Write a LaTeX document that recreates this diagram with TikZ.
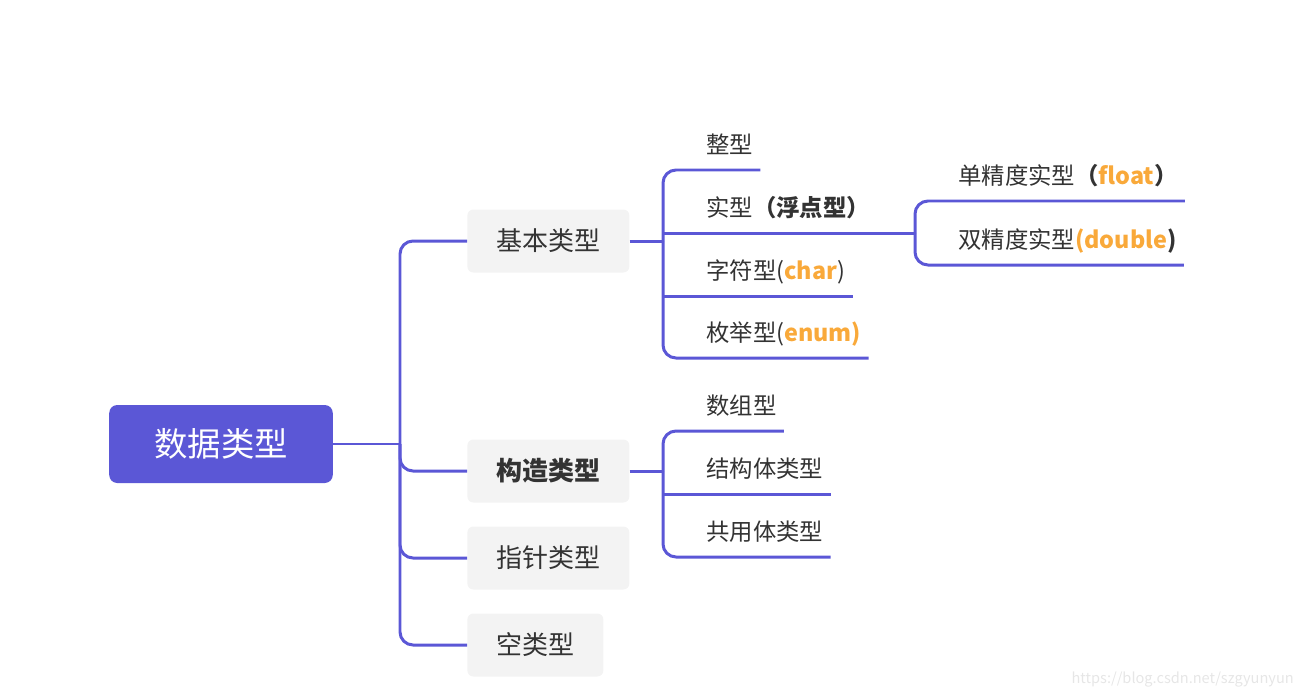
\documentclass[tikz,border=0pt]{standalone}
\usepackage{fontspec}
\setmainfont{Noto Sans CJK SC}
\usepackage{tikz}
\usetikzlibrary{positioning}
\definecolor{mindblue}{HTML}{5B57D6}
\definecolor{boxgray}{HTML}{F3F3F3}
\definecolor{txtgray}{HTML}{333333}
\definecolor{accent}{HTML}{F9A93A}
\definecolor{markgray}{HTML}{E6E6E6}
\newcommand{\acc}[1]{\textcolor{accent}{\textbf{#1}}}
\tikzset{
  rootbox/.style={rounded corners=0.16cm, fill=mindblue, text=white, minimum height=1.56cm,
                  inner xsep=0.9cm, font=\fontsize{19}{20}\selectfont},
  kindbox/.style={rounded corners=0.12cm, fill=boxgray, text=txtgray, minimum height=1.26cm,
                  inner xsep=0.58cm, anchor=west, font=\fontsize{14.8}{16}\selectfont},
  leaf/.style={anchor=south west, inner xsep=0.14cm, inner ysep=0.26cm, text height=0.8em,
               text depth=0.2em, text=txtgray, font=\fontsize{13.3}{14}\selectfont},
  link/.style={draw=mindblue, line width=1.7pt, rounded corners=0.26cm},
  watermark/.style={text=markgray, font=\fontsize{8.3}{9}\selectfont, anchor=east},
}

\begin{document}
\begin{tikzpicture}[x=0.02cm, y=-0.02cm]
  \useasboundingbox (0,0) rectangle (1308,697);

  \node[rootbox] (root) at (221,444) {数据类型};
  \node[kindbox] (kind1) at (467,241) {基本类型};
  \node[kindbox] (kind2) at (467,471) {\bfseries 构造类型};
  \node[kindbox] (kind3) at (467,558) {指针类型};
  \node[kindbox] (kind4) at (467,645) {空类型};

  \coordinate (trunk) at (400,444);
  \draw[link, line width=1.3pt] (root) -- (trunk);
  \foreach \k in {kind1,kind2,kind3,kind4}
    \draw[link] (trunk) |- (\k.west);

  % basic types
  \node[leaf] (int) at (699,170) {整型};
  \node[leaf] (real) at (699,233) {实型\textbf{（浮点型）}};
  \node[leaf] (char) at (699,296) {字符型(\acc{char})};
  \node[leaf] (enum) at (699,358) {枚举型(\acc{enum)}};
  \coordinate (fork1) at (663,241);
  \draw[link] (kind1) -- (fork1);
  \draw[link] (fork1) |- (int.south west) -- (int.south east);
  \draw[link] (fork1) |- (enum.south west) -- (enum.south east);
  \draw[link] (fork1 |- char.south) -- (char.south east);

  % float types
  \node[leaf] (single) at (951,201) {单精度实型\textbf{（}\acc{float}\textbf{）}};
  \node[leaf] (double) at (951,265) {双精度实型\acc{(double}\textbf{)}};
  \coordinate (fork3) at (915,233);
  \draw[link] (fork1 |- real.south) -- (fork3);
  \draw[link] (fork3) |- (single.south west) -- (single.south east);
  \draw[link] (fork3) |- (double.south west) -- (double.south east);

  % constructed types
  \node[leaf] (array) at (699,431) {数组型};
  \node[leaf] (struct) at (699,494) {结构体类型};
  \node[leaf] (union) at (699,557) {共用体类型};
  \coordinate (fork2) at (663,471);
  \draw[link] (kind2) -- (fork2);
  \draw[link] (fork2) |- (array.south west) -- (array.south east);
  \draw[link] (fork2) |- (union.south west) -- (union.south east);
  \draw[link] (fork2 |- struct.south) -- (struct.south east);

  \node[watermark] (mark) at (1300,680) {https://blog.csdn.net/szgyunyun};
\end{tikzpicture}
\end{document}
